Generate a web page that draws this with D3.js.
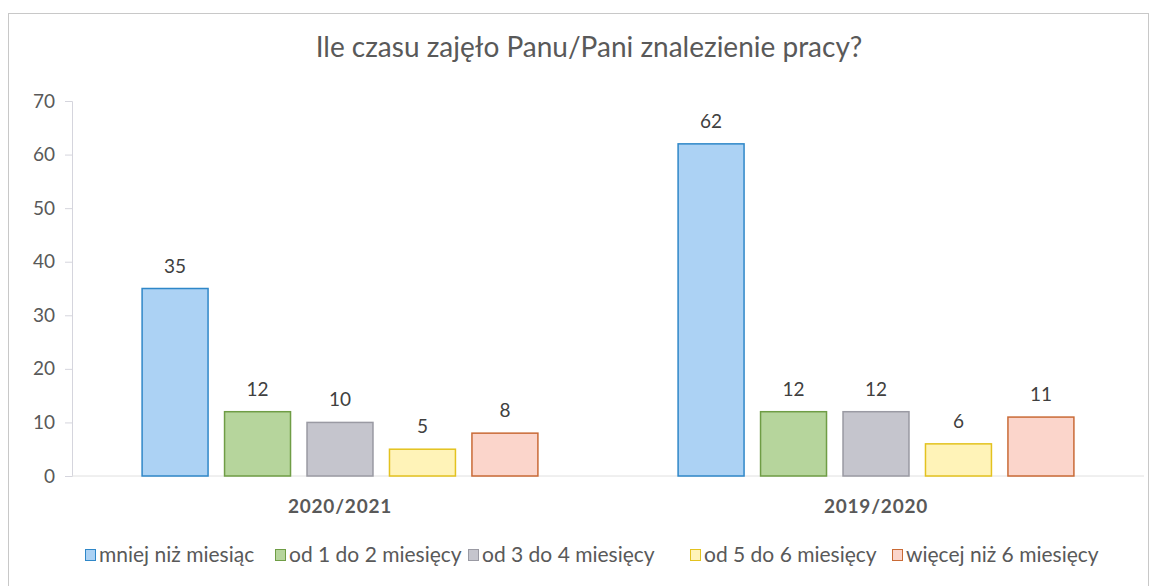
<!DOCTYPE html>
<html><head><meta charset="utf-8">
<script src="https://cdn.jsdelivr.net/npm/d3@7"></script>
<style>body{margin:0;background:#fff}text{font-family:Lato,"Open Sans",sans-serif}</style>
</head><body><svg id="c" width="1155" height="586"></svg>
<script>
const categories = ["2020/2021", "2019/2020"];
const seriesNames = ["mniej niż miesiąc", "od 1 do 2 miesięcy", "od 3 do 4 miesięcy", "od 5 do 6 miesięcy", "więcej niż 6 miesięcy"];
const values2020_2021 = [35, 12, 10, 5, 8];
const values2019_2020 = [62, 12, 12, 6, 11];
const yTicks = [0, 10, 20, 30, 40, 50, 60, 70];
const fills = ["#acd2f4", "#b6d59c", "#c5c5cd", "#fff3b8", "#fbd5cb"];
const strokes = ["#2f87c8", "#6f9d45", "#9a9aa3", "#e3c21f", "#c96a36"];

const allValues = [values2020_2021, values2019_2020];
const svg = d3.select("#c");
const m = {left: 72, right: 1144, top: 101, bottom: 476};

svg.append("rect").attr("x", 8.5).attr("y", 13.5).attr("width", 1140).attr("height", 580)
  .attr("fill", "none").attr("stroke", "#c8c8c8");

const x0 = d3.scaleBand().domain(categories).range([m.left, m.right]).paddingInner(0).paddingOuter(0);
const x1 = d3.scaleBand().domain(seriesNames).range([0, x0.bandwidth()]).paddingInner(0.2).paddingOuter(0.85);
const y = d3.scaleLinear().domain([0, 70]).range([m.bottom, m.top]);

svg.append("text").attr("x", 589).attr("y", 57).attr("text-anchor", "middle")
  .attr("font-size", 28).attr("fill", "#595959").text("Ile czasu zajęło Panu/Pani znalezienie pracy?");

const ya = svg.append("g").attr("transform", `translate(${m.left},0)`)
  .call(d3.axisLeft(y).tickValues(yTicks).tickSize(7).tickPadding(10));
ya.select(".domain").attr("stroke", "#d5d5dd");
ya.selectAll(".tick line").attr("stroke", "#d5d5dd");
ya.selectAll(".tick text").attr("font-size", 19).attr("fill", "#595959").attr("font-family", "Lato,'Open Sans',sans-serif");

svg.append("line").attr("x1", m.left).attr("x2", m.right).attr("y1", y(0)).attr("y2", y(0)).attr("stroke", "#e0e0e0");

categories.forEach((cat, ci) => {
  const g = svg.append("g").attr("transform", `translate(${x0(cat)},0)`);
  allValues[ci].forEach((v, si) => {
    const s = seriesNames[si];
    g.append("rect").attr("x", x1(s)).attr("y", y(v)).attr("width", x1.bandwidth()).attr("height", y(0) - y(v))
      .attr("fill", fills[si]).attr("stroke", strokes[si]).attr("stroke-width", 1.5);
    g.append("text").attr("x", x1(s) + x1.bandwidth() / 2).attr("y", y(v) - 16).attr("text-anchor", "middle")
      .attr("font-size", 19).attr("fill", "#404040").text(v);
  });
  svg.append("text").attr("x", x0(cat) + x0.bandwidth() / 2).attr("y", 513).attr("text-anchor", "middle")
    .attr("font-size", 19).attr("letter-spacing", 0.8).attr("font-weight", "bold").attr("fill", "#595959").text(cat);
});

const legendX = [85, 275, 468, 690, 892];
seriesNames.forEach((s, i) => {
  const g = svg.append("g").attr("transform", `translate(${legendX[i]},556)`);
  g.append("rect").attr("x", 0.5).attr("y", -6.5).attr("width", 10).attr("height", 11)
    .attr("fill", fills[i]).attr("stroke", strokes[i]);
  g.append("text").attr("x", 14).attr("y", 6).attr("font-size", 21).attr("fill", "#595959").text(s);
});
</script></body></html>
